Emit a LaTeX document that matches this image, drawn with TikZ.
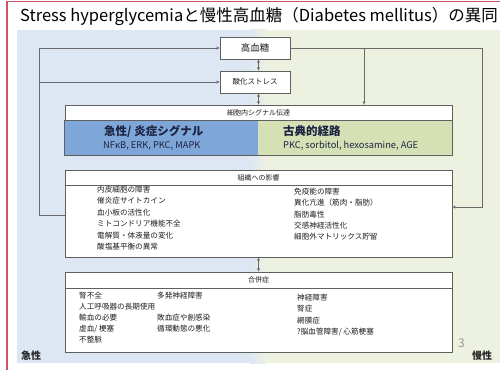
\documentclass[tikz,border=0pt]{standalone}
\usepackage{fontspec}
\setmainfont{Noto Sans CJK JP}
\usetikzlibrary{arrows.meta,positioning,calc}
\definecolor{framered}{RGB}{205,85,95}
\definecolor{bgblue}{RGB}{221,230,243}
\definecolor{bggreen}{RGB}{237,241,224}
\definecolor{bandblue}{RGB}{126,166,216}
\definecolor{bandgreen}{RGB}{213,225,180}
\definecolor{boxgray}{RGB}{95,95,95}
\definecolor{linegray}{RGB}{105,105,105}
\definecolor{txt}{RGB}{30,30,30}
\definecolor{bandtxt}{RGB}{28,36,66}
\tikzset{
  box/.style={draw=boxgray, fill=white, line width=0.8pt, inner sep=0pt, text=txt},
  head/.style={draw=boxgray, fill=white, line width=0.8pt, inner sep=0pt, text=txt, font=\fontsize{7}{8}\selectfont},
  band/.style={draw=none, inner sep=0pt},
  lst/.style={anchor=north west, inner sep=0pt, align=left, text=txt},
  arr/.style={draw=linegray, line width=0.8pt, -{Stealth[length=3.5pt,width=3pt]}},
  darr/.style={draw=linegray, line width=0.8pt, {Stealth[length=3.5pt,width=3pt]}-{Stealth[length=3.5pt,width=3pt]}},
  ln/.style={draw=linegray, line width=0.8pt}
}
\begin{document}
\begin{tikzpicture}[x=1pt,y=-1pt]
\useasboundingbox (0,0) rectangle (500,369);
% backgrounds
\fill[white] (0,0) rectangle (500,369);
\fill[bgblue] (17,30) rectangle (250,363);
\shade[left color=bgblue, right color=bggreen] (250,30) rectangle (266,363);
\fill[bggreen] (266,30) rectangle (500,363);
% frame
\draw[framered, line width=1.4pt] (7,372) -- (7,1.5) -- (503,1.5);
% title
\node[anchor=west, inner sep=0pt, font=\fontsize{16.5}{18}\selectfont, text=black] (title) at (20,17)
  {Stress hyperglycemiaと慢性高血糖（Diabetes mellitus）の異同};

% top boxes
\node[box, minimum width=70, minimum height=22, font=\fontsize{9.5}{11}\selectfont] (hg) at (255,48) {高血糖};
\node[box, minimum width=70, minimum height=22, font=\fontsize{7.5}{9}\selectfont] (ox) at (255,82) {酸化ストレス};

% signal box
\node[head, minimum width=387, minimum height=15] (sighead) at (258.5,112.5) {細胞内シグナル伝達};
\node[band, fill=bandblue, minimum width=193, minimum height=35] (sigblue) at (161.5,137.5) {};
\node[band, fill=bandgreen, minimum width=194, minimum height=35] (siggreen) at (355,137.5) {};
\draw[boxgray, line width=0.8pt] (sighead.south west) rectangle (siggreen.south east);
\node[anchor=west, inner sep=0pt, text=bandtxt, font=\fontsize{11.5}{13}\bfseries\selectfont] (bt1) at (104,131.5) {急性/ 炎症シグナル};
\node[anchor=west, inner sep=0pt, text=bandtxt, font=\fontsize{9.3}{11}\selectfont] (bt2) at (103,146) {NFκB, ERK, PKC, MAPK};
\node[anchor=west, inner sep=0pt, text=bandtxt, font=\fontsize{11.5}{13}\bfseries\selectfont] (gt1) at (283,131.5) {古典的経路};
\node[anchor=west, inner sep=0pt, text=bandtxt, font=\fontsize{9.3}{11}\selectfont] (gt2) at (283,146) {PKC, sorbitol, hexosamine, AGE};

% tissue box
\node[box, minimum width=387, minimum height=87] (tis) at (258.5,213.5) {};
\node[head, minimum width=387, minimum height=15] (tishead) at (258.5,177.5) {組織への影響};
\node[lst, font=\fontsize{7.6}{11.4}\selectfont] (tisL) at (97,186) {内皮細胞の障害\\催炎症サイトカイン\\血小板の活性化\\ミトコンドリア機能不全\\電解質・体液量の変化\\酸塩基平衡の異常};
\node[lst, font=\fontsize{7.6}{11.3}\selectfont] (tisR) at (294,188) {免疫能の障害\\異化亢進（筋肉・脂肪）\\脂肪毒性\\交感神経活性化\\細胞外マトリックス貯留};

% complications box
\node[box, minimum width=387, minimum height=80] (cmp) at (258.5,312) {};
\node[head, minimum width=387, minimum height=16] (cmphead) at (258.5,280) {合併症};
\node[lst, font=\fontsize{7.6}{11}\selectfont] (cmpL) at (79,292) {腎不全\\人工呼吸器の長期使用\\輸血の必要\\虚血/ 梗塞\\不整脈};
\node[lst, font=\fontsize{7.6}{11}\selectfont] (cmpM) at (157,292) {多発神経障害\\\mbox{}\\敗血症や創感染\\循環動態の悪化};
\node[lst, font=\fontsize{7.6}{11.3}\selectfont] (cmpR) at (297,294) {神経障害\\腎症\\網膜症\\?脳血管障害/ 心筋梗塞};

% labels
\node[anchor=west, inner sep=0pt, text=gray!80, font=\fontsize{12}{14}\selectfont] (pg) at (458,343) {3};
\node[anchor=west, inner sep=0pt, text=black!85, font=\fontsize{10}{12}\bfseries\selectfont] (chronic) at (472,356) {慢性};
\node[anchor=west, inner sep=0pt, text=black!85, font=\fontsize{10}{12}\bfseries\selectfont] (acute) at (21,356) {急性};

% connectors
\coordinate (c1) at (258.5,0);
\draw[darr] (hg.south -| c1) -- (ox.north -| c1);
\draw[darr] (ox.south -| c1) -- (sighead.north -| c1);
\draw[darr] (tis.south -| c1) -- (cmphead.north -| c1);

\coordinate (fbL) at (39,215);
\draw[arr] (tis.west |- fbL) -- (fbL) |- (hg.west);
\draw[arr] (fbL |- ox.west) -- (ox.west);

\coordinate (fbR) at (482,207);
\draw[arr] (hg.east) -| (fbR) -- (tis.east |- fbR);
\coordinate (brR) at (364,48);
\draw[arr] (brR) -- (brR |- sighead.north);
\end{tikzpicture}
\end{document}
